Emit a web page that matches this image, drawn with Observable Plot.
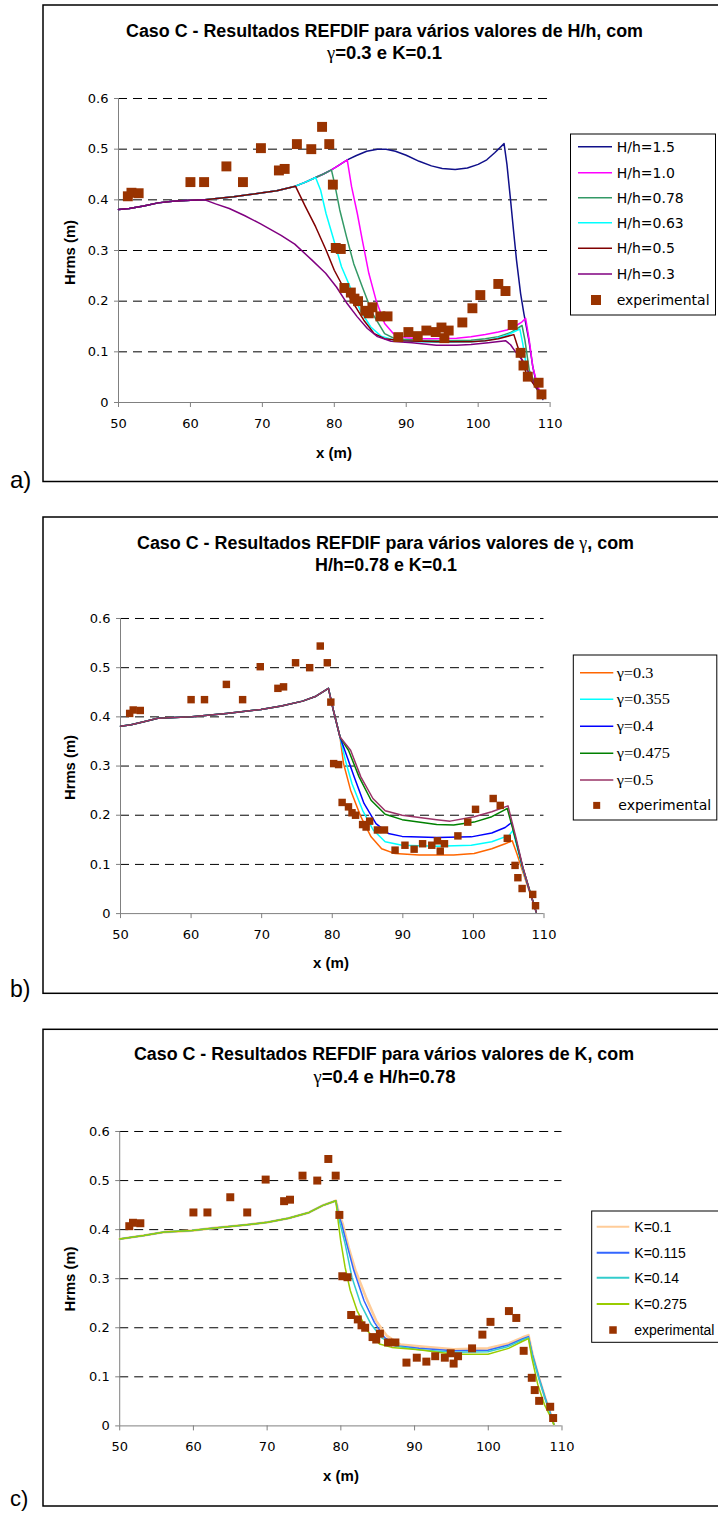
<!DOCTYPE html>
<html><head><meta charset="utf-8">
<script src="https://cdn.jsdelivr.net/npm/d3@7"></script>
<script src="https://cdn.jsdelivr.net/npm/@observablehq/plot@0.6"></script>
<style>
html,body{margin:0;padding:0;background:#fff;}
#root{position:relative;width:718px;height:1513px;overflow:hidden;background:#fff;}
</style></head><body><div id="root"></div>
<script>
// ---------- shared data ----------
const xTicks = [50, 60, 70, 80, 90, 100, 110];
const yTicks = [0, 0.1, 0.2, 0.3, 0.4, 0.5, 0.6];
const yTickLabels = ["0", "0.1", "0.2", "0.3", "0.4", "0.5", "0.6"];

const expX = [51.3, 51.8, 52.8, 60.0, 61.9, 65.0, 67.3, 69.8, 72.3, 73.1, 74.8, 76.8, 78.3, 79.3, 79.8, 80.2, 80.9, 81.4, 82.3, 82.8, 83.3, 84.3, 84.8, 85.3, 86.4, 87.4, 88.9, 90.3, 91.6, 92.8, 94.1, 94.9, 95.3, 95.9, 97.8, 99.2, 100.3, 102.8, 103.8, 104.8, 105.9, 106.3, 106.9, 108.4, 108.8];
const expY = [0.407, 0.414, 0.413, 0.435, 0.435, 0.466, 0.435, 0.502, 0.458, 0.461, 0.51, 0.5, 0.544, 0.51, 0.43, 0.305, 0.303, 0.226, 0.217, 0.205, 0.2, 0.181, 0.176, 0.188, 0.17, 0.17, 0.129, 0.139, 0.131, 0.142, 0.139, 0.148, 0.127, 0.142, 0.158, 0.186, 0.212, 0.234, 0.22, 0.153, 0.098, 0.073, 0.051, 0.039, 0.016];

// ---------- panel a: H/h ----------
const hh15 = [[50,0.381],[51.5,0.383],[53.5,0.388],[55.5,0.394],[57.5,0.397],[60,0.399],[62,0.4],[64,0.403],[66,0.406],[68,0.41],[70,0.414],[72,0.418],[74.6,0.427],[76,0.435],[77.4,0.444],[78.5,0.451],[79.6,0.459],[80.5,0.467],[81.8,0.479],[83,0.487],[84.5,0.496],[86,0.5],[87.2,0.5],[88.5,0.496],[90,0.488],[91.8,0.476],[93.5,0.467],[95,0.462],[96.8,0.46],[98.5,0.463],[100,0.47],[101.2,0.479],[102.3,0.493],[103.6,0.511],[104,0.47],[104.5,0.4],[104.96,0.333],[105.33,0.281],[105.9,0.215],[106.35,0.176],[107.05,0.123],[107.6,0.07],[108.2,0.031],[108.67,0.018],[109,0.006]];
const hh10 = [[50,0.381],[51.5,0.383],[53.5,0.388],[55.5,0.394],[57.5,0.397],[60,0.399],[62,0.4],[64,0.403],[66,0.406],[68,0.41],[70,0.414],[72,0.418],[74.6,0.427],[76,0.435],[77.4,0.444],[78.5,0.451],[79.6,0.459],[80.5,0.467],[81.8,0.479],[82.4,0.426],[83.2,0.373],[83.9,0.32],[84.8,0.255],[85.8,0.202],[87,0.156],[88.2,0.136],[89.9,0.128],[92,0.126],[94.2,0.126],[97,0.127],[99,0.13],[101,0.134],[102.8,0.139],[104,0.143],[105.2,0.151],[106,0.158],[106.6,0.166],[107.1,0.123],[107.6,0.07],[108.3,0.031],[108.8,0.0145]];
const hh078 = [[50,0.381],[51.5,0.383],[53.5,0.388],[55.5,0.394],[57.5,0.397],[60,0.399],[62,0.4],[64,0.403],[66,0.406],[68,0.41],[70,0.414],[72,0.418],[74.6,0.427],[76,0.435],[77.4,0.444],[78.5,0.451],[79.6,0.459],[80.04,0.432],[80.76,0.38],[81.7,0.327],[82.7,0.274],[83.9,0.228],[85.3,0.176],[87,0.136],[88.4,0.126],[91.8,0.123],[95,0.122],[99,0.123],[101,0.126],[102.8,0.13],[104.5,0.138],[106.1,0.152],[106.5,0.123],[107.1,0.064],[108.3,0.024],[108.8,0.0125]];
const hh063 = [[50,0.381],[51.5,0.383],[53.5,0.388],[55.5,0.394],[57.5,0.397],[60,0.399],[62,0.4],[64,0.403],[66,0.406],[68,0.41],[70,0.414],[72,0.418],[74.6,0.427],[76,0.435],[77.4,0.444],[78.1,0.419],[78.85,0.373],[79.8,0.327],[81,0.268],[82.2,0.228],[83.6,0.182],[85.07,0.149],[86.5,0.131],[88.4,0.123],[91.8,0.12],[95,0.119],[99,0.12],[101,0.122],[102.3,0.126],[104,0.133],[105.8,0.145],[106.2,0.116],[106.8,0.064],[108.1,0.028],[108.8,0.0125]];
const hh05 = [[50,0.381],[51.5,0.383],[53.5,0.388],[55.5,0.394],[57.5,0.397],[60,0.399],[62,0.4],[64,0.403],[66,0.406],[68,0.41],[70,0.414],[72,0.418],[74.6,0.427],[76,0.386],[77.4,0.347],[78.85,0.301],[80,0.261],[81.24,0.228],[82.68,0.195],[84.1,0.1625],[85.55,0.136],[87,0.126],[89.4,0.122],[94.2,0.12],[99,0.12],[101,0.122],[102.8,0.126],[104.96,0.134],[105.5,0.11],[106.1,0.083],[106.7,0.057],[108.1,0.028],[108.8,0.0145]];
const hh03 = [[50,0.381],[51.5,0.383],[53.5,0.388],[55.5,0.394],[57.5,0.397],[60,0.399],[62,0.4],[63.5,0.392],[65.4,0.383],[67.5,0.369],[69.7,0.353],[72.6,0.33],[74.5,0.3125],[76.9,0.281],[78.8,0.255],[80.3,0.228],[81.7,0.197],[83.2,0.169],[84.6,0.146],[86,0.13],[87.9,0.121],[90.8,0.118],[94.2,0.113],[97,0.113],[99,0.1145],[101.4,0.118],[103.8,0.122],[104.5,0.114],[105.2,0.1],[106.15,0.0835],[107.1,0.057],[108.1,0.031],[108.8,0.0145]];
const seriesA = ["H/h=1.5", "H/h=1.0", "H/h=0.78", "H/h=0.63", "H/h=0.5", "H/h=0.3"];
const colorsA = ["#10108a", "#ff00ff", "#339966", "#00ffff", "#800000", "#800080"];

// ---------- panel b: gamma ----------
const g03 = [[50,0.381],[51.5,0.384],[53.3,0.39],[55.3,0.397],[60.1,0.4],[65,0.407],[69.9,0.415],[72.8,0.422],[75.8,0.432],[77.7,0.442],[79.46,0.458],[80.15,0.414],[81.1,0.359],[81.6,0.305],[82.6,0.251],[84.05,0.197],[85.5,0.156],[87,0.132],[88.9,0.122],[92.3,0.119],[97.2,0.119],[100.1,0.122],[102.6,0.132],[104.5,0.142],[105.5,0.148],[106.2,0.12],[107,0.085],[108,0.042],[108.9,0.003]];
const g0355 = [[50,0.381],[51.5,0.384],[53.3,0.39],[55.3,0.397],[60.1,0.4],[65,0.407],[69.9,0.415],[72.8,0.422],[75.8,0.432],[77.7,0.442],[79.46,0.458],[80.15,0.414],[81.1,0.359],[81.85,0.312],[82.8,0.264],[84.3,0.21],[85.8,0.17],[87.5,0.146],[89.9,0.139],[94.8,0.137],[99.7,0.139],[102.6,0.146],[105.05,0.159],[105.6,0.169],[106.2,0.135],[107,0.09],[108,0.044],[108.9,0.003]];
const g04 = [[50,0.381],[51.5,0.384],[53.3,0.39],[55.3,0.397],[60.1,0.4],[65,0.407],[69.9,0.415],[72.8,0.422],[75.8,0.432],[77.7,0.442],[79.46,0.458],[80.15,0.414],[81.1,0.359],[82.1,0.319],[83.1,0.278],[84.5,0.224],[86.2,0.183],[87.95,0.163],[89.9,0.157],[94.8,0.1546],[99.7,0.156],[102.6,0.164],[104.5,0.175],[105.4,0.185],[106.2,0.14],[107,0.093],[108,0.045],[108.9,0.003]];
const g0475 = [[50,0.381],[51.5,0.384],[53.3,0.39],[55.3,0.397],[60.1,0.4],[65,0.407],[69.9,0.415],[72.8,0.422],[75.8,0.432],[77.7,0.442],[79.46,0.458],[80.15,0.414],[81.1,0.359],[82.3,0.332],[83.8,0.278],[85.5,0.2305],[87.5,0.202],[89.9,0.191],[94.8,0.181],[97.2,0.18],[100.1,0.186],[102.6,0.197],[104.3,0.21],[104.8,0.2136],[106,0.15],[107,0.094],[108,0.046],[108.9,0.003]];
const g05 = [[50,0.381],[51.5,0.384],[53.3,0.39],[55.3,0.397],[60.1,0.4],[65,0.407],[69.9,0.415],[72.8,0.422],[75.8,0.432],[77.7,0.442],[79.46,0.458],[80.15,0.414],[81.1,0.359],[82.6,0.332],[84.05,0.278],[85.76,0.234],[87.5,0.209],[89.9,0.2],[94.8,0.191],[96.7,0.188],[100.1,0.197],[102.6,0.207],[104.9,0.219],[106,0.156],[107,0.095],[107.95,0.047],[108.9,0.003]];
const seriesB = ["γ=0.3", "γ=0.355", "γ=0.4", "γ=0.475", "γ=0.5"];
const colorsB = ["#ff6600", "#00ffff", "#0000ff", "#008000", "#993366"];

// ---------- panel c: K ----------
const k01 = [[50,0.381],[53.27,0.388],[56.07,0.395],[59.8,0.398],[62.6,0.403],[67.27,0.41],[70.07,0.415],[72.9,0.423],[75.7,0.435],[77.5,0.449],[79.32,0.459],[79.8,0.43],[80.25,0.412],[81.05,0.364],[81.98,0.317],[83.4,0.262],[84.8,0.214],[86.2,0.184],[88.05,0.166],[90.6,0.162],[95.3,0.156],[99.95,0.158],[102.75,0.168],[104.6,0.18],[105.45,0.185],[106,0.146],[107,0.092],[107.7,0.058],[108.4,0.027],[108.9,0.003]];
const k0115 = [[50,0.381],[53.27,0.388],[56.07,0.395],[59.8,0.398],[62.6,0.403],[67.27,0.41],[70.07,0.415],[72.9,0.423],[75.7,0.435],[77.5,0.449],[79.32,0.459],[79.7,0.43],[80.1,0.412],[80.8,0.371],[81.75,0.317],[83.15,0.255],[84.55,0.211],[85.95,0.18],[87.8,0.163],[90.6,0.158],[95.3,0.153],[99.95,0.154],[102.75,0.165],[104.6,0.177],[105.45,0.182],[106,0.145],[107,0.092],[107.7,0.058],[108.4,0.027],[108.9,0.003]];
const k014 = [[50,0.381],[53.27,0.388],[56.07,0.395],[59.8,0.398],[62.6,0.403],[67.27,0.41],[70.07,0.415],[72.9,0.423],[75.7,0.435],[77.5,0.449],[79.32,0.459],[79.65,0.43],[79.9,0.412],[80.58,0.371],[81.5,0.303],[82.7,0.248],[84.1,0.207],[85.5,0.18],[87.35,0.163],[90.6,0.155],[95.3,0.15],[99.95,0.151],[102.75,0.162],[104.6,0.175],[105.45,0.18],[106,0.142],[107,0.09],[107.7,0.056],[108.4,0.025],[108.9,0.003]];
const k0275 = [[50,0.381],[53.27,0.388],[56.07,0.395],[59.8,0.398],[62.6,0.403],[67.27,0.41],[70.07,0.415],[72.9,0.423],[75.7,0.435],[77.5,0.449],[79.32,0.459],[79.65,0.415],[79.97,0.378],[80.58,0.323],[81.28,0.276],[82.2,0.235],[83.6,0.194],[85.25,0.167],[86.9,0.16],[90.6,0.155],[95.3,0.146],[99.95,0.146],[102.75,0.158],[104.6,0.172],[105.45,0.178],[105.9,0.139],[106.7,0.085],[107.6,0.044],[108.4,0.02],[108.9,0.003]];
const seriesC = ["K=0.1", "K=0.115", "K=0.14", "K=0.275"];
const colorsC = ["#ffcc99", "#3366ff", "#33cccc", "#99cc00"];
const expColor = "#993300";

// ---------- build ----------
const root = document.getElementById("root");
const expData = expX.map((x, i) => ({x, y: expY[i]}));
const toRows = (arr, name) => arr.map(([x, y]) => ({x, y, s: name}));

function makePanel(cfg) {
  const mt = 30, mb = 40;
  const h = cfg.bottom - cfg.top;
  const marks = [
    Plot.gridY({ticks: yTicks.slice(1), stroke: "#000", strokeOpacity: 1, strokeDasharray: "9,6"}),
    Plot.ruleY([0], {stroke: "#808080"}),
    Plot.ruleX([50], {stroke: "#808080"}),
    Plot.axisX({ticks: xTicks, tickSize: 5, tickPadding: 11, label: null, stroke: "#808080", fill: "#000"}),
    Plot.axisY({ticks: yTicks, tickSize: 4, tickPadding: 6, label: null, stroke: "#808080", fill: "#000",
      tickFormat: d => yTickLabels[yTicks.indexOf(d)] ?? String(d)})
  ];
  cfg.series.forEach((arr, i) => {
    marks.push(Plot.line(toRows(arr, cfg.names[i]), {x: "x", y: "y", stroke: cfg.colors[i], strokeWidth: cfg.widths ? cfg.widths[i] : 1.5}));
  });
  marks.push(Plot.dot(expData, {x: "x", y: "y", symbol: "square", r: cfg.r, fill: expColor}));
  const svg = Plot.plot({
    width: 718, height: h + mt + mb,
    marginLeft: cfg.left, marginRight: 718 - cfg.right, marginTop: mt, marginBottom: mb,
    x: {domain: [50, 110]}, y: {domain: [0, 0.6]},
    style: {fontFamily: "'DejaVu Sans', sans-serif", fontSize: "13px", background: "transparent", color: "#000", overflow: "visible"},
    marks
  });
  svg.style.position = "absolute";
  svg.style.left = "0px";
  svg.style.top = (cfg.top - mt) + "px";
  svg.style.maxWidth = "none";
  root.appendChild(svg);
}

makePanel({left: 118, right: 549.6, top: 98.3, bottom: 402.3, r: 5.6,
  series: [hh15, hh10, hh078, hh063, hh05, hh03], names: seriesA, colors: colorsA});
makePanel({left: 120, right: 543.5, top: 618.2, bottom: 913.3, r: 4.2,
  series: [g03, g0355, g04, g0475, g05], names: seriesB, colors: colorsB});
makePanel({left: 119.2, right: 561.5, top: 1130.9, bottom: 1425.3, r: 4.5,
  series: [k01, k0115, k014, k0275], names: seriesC, colors: colorsC, widths: [2.6, 1.5, 1.5, 1.5]});

// ---------- overlay: frames, titles, axis titles, legends ----------
const ov = d3.select(root).append("svg")
  .attr("width", 718).attr("height", 1513)
  .style("position", "absolute").style("left", "0px").style("top", "0px");

const frames = [[5, 481.5], [517, 993.3], [1029.3, 1506]];
frames.forEach(([t, b]) => ov.append("rect").attr("x", 43).attr("y", t).attr("width", 700).attr("height", b - t)
  .attr("fill", "none").attr("stroke", "#000").attr("stroke-width", 1.5));

const SANS = "'Liberation Sans', Arial, sans-serif";
function title(parts, x, y, len) {
  const t = ov.append("text").attr("x", x).attr("y", y).attr("textLength", len).attr("lengthAdjust", "spacingAndGlyphs")
    .attr("font-family", SANS).attr("font-size", 18).attr("font-weight", "bold").attr("fill", "#000");
  parts.forEach(p => {
    const ts = t.append("tspan").text(p.t);
    if (p.g) ts.attr("font-family", "'Liberation Serif', serif").attr("font-weight", "normal");
  });
}
title([{t: "Caso C - Resultados REFDIF para vários valores de H/h, com"}], 126, 37, 517);
title([{t: "γ", g: 1}, {t: "=0.3 e K=0.1"}], 327, 59, 115);
title([{t: "Caso C - Resultados REFDIF para vários valores de "}, {t: "γ", g: 1}, {t: ", com"}], 137, 548.5, 497);
title([{t: "H/h=0.78 e K=0.1"}], 315, 571, 142);
title([{t: "Caso C - Resultados REFDIF para vários valores de K, com"}], 134, 1060, 500);
title([{t: "γ", g: 1}, {t: "=0.4 e H/h=0.78"}], 313.6, 1083, 142);

// axis titles
[[252.5, 334, 457.5], [767.5, 331, 968.3], [1279, 341, 1481]].forEach(([cy, xc, xb]) => {
  ov.append("text").attr("transform", `translate(75,${cy}) rotate(-90)`).attr("text-anchor", "middle")
    .attr("font-family", SANS).attr("font-weight", "bold").attr("font-size", 14.5)
    .attr("textLength", 65).attr("lengthAdjust", "spacingAndGlyphs").text("Hrms (m)");
  ov.append("text").attr("x", xc).attr("y", xb).attr("text-anchor", "middle")
    .attr("font-family", SANS).attr("font-weight", "bold").attr("font-size", 15).text("x (m)");
});

// panel letters
[["a)", 488, 24], ["b)", 997, 23], ["c)", 1506, 22]].forEach(([s, y, fs]) => {
  ov.append("text").attr("x", 10).attr("y", y).attr("font-family", SANS).attr("font-size", fs).text(s);
});

// legends
function legend(cfg) {
  ov.append("rect").attr("x", cfg.box[0]).attr("y", cfg.box[1]).attr("width", cfg.box[2]).attr("height", cfg.box[3])
    .attr("fill", "#fff").attr("stroke", "#000").attr("stroke-width", 1);
  cfg.names.forEach((n, i) => {
    const y = cfg.rows[i];
    ov.append("line").attr("x1", cfg.line[0]).attr("x2", cfg.line[1]).attr("y1", y).attr("y2", y)
      .attr("stroke", cfg.colors[i]).attr("stroke-width", cfg.lw);
    const t = ov.append("text").attr("x", cfg.tx).attr("y", y + 5).attr("font-family", cfg.font).attr("font-size", cfg.fs).text(n);
    if (cfg.lens) t.attr("textLength", cfg.lens[i]).attr("lengthAdjust", "spacingAndGlyphs");
  });
  const ey = cfg.expRow;
  ov.append("rect").attr("x", cfg.sq[0] - cfg.sq[1] / 2).attr("y", ey - cfg.sq[1] / 2).attr("width", cfg.sq[1]).attr("height", cfg.sq[1]).attr("fill", expColor);
  ov.append("text").attr("x", cfg.etx).attr("y", ey + 5).attr("font-family", cfg.efont).attr("font-size", 14).text("experimental");
}
legend({box: [570.5, 134, 145, 181], names: seriesA, colors: colorsA, rows: [146.7, 172.7, 197.7, 222.7, 248.3, 274],
  line: [578, 612], lw: 1.6, tx: 616.7, font: "'DejaVu Sans', sans-serif", fs: 14,
  expRow: 300, sq: [596, 10], etx: 616.7, efont: "'DejaVu Sans', sans-serif"});
legend({box: [573.3, 655, 143.5, 165], names: seriesB, colors: colorsB, rows: [672.7, 699.3, 726.3, 753.3, 780],
  line: [580, 613.3], lw: 1.6, tx: 616.7, font: "'Liberation Serif', serif", fs: 14, lens: [36.7, 53.3, 36.7, 53.3, 36.7],
  expRow: 805.4, sq: [596.7, 7], etx: 618.3, efont: "'DejaVu Sans', sans-serif"});
legend({box: [591.7, 1211, 140, 131.3], names: seriesC, colors: colorsC, rows: [1226.7, 1252.7, 1277.7, 1304],
  line: [596.7, 629.3], lw: 2, tx: 634.3, font: SANS, fs: 14,
  expRow: 1330, sq: [613, 7.5], etx: 634.3, efont: SANS});
</script></body></html>
